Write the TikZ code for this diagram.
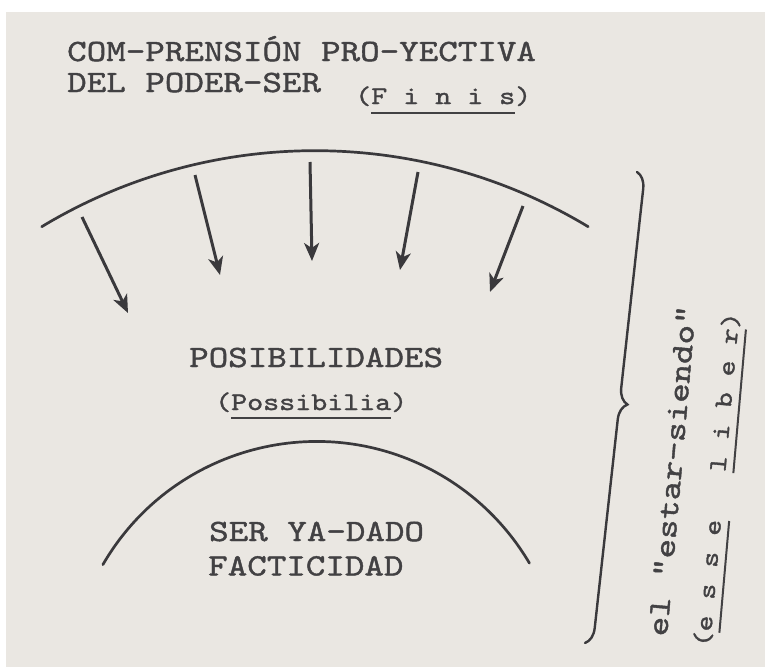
\documentclass[tikz,border=0pt]{standalone}
\usepackage{fontspec}
\usetikzlibrary{arrows.meta,decorations.pathreplacing,calc}
\newfontfamily\tw{lmmono10-regular.otf}[FakeStretch=1.2,FakeBold=1.3]
\definecolor{paper}{HTML}{EAE7E2}
\definecolor{ink}{HTML}{3A393C}
\definecolor{typeink}{HTML}{424143}
\newcommand\bigtype{\tw\fontsize{31}{36}\selectfont}
\newcommand\smalltype{\tw\fontsize{25.4}{30}\selectfont}
\begin{document}
\begin{tikzpicture}[x=1pt,y=1pt,
  txt/.style={inner sep=0pt, anchor=base west, text=typeink},
  big/.style={txt, font=\bigtype},
  small/.style={txt, font=\smalltype},
  uline/.style={draw=typeink, line width=2pt},
  arr/.style={draw=ink, line width=3pt, -{Stealth[length=18pt,width=15pt,inset=5pt]}},
  curve/.style={draw=ink, line width=2.7pt, line cap=round}]
\useasboundingbox (0,0) rectangle (765,-667);
\fill[white] (0,0) rectangle (765,-667);
\fill[paper] (6,-12) rectangle (765,-667);
% title
\node[big] (t1) at (67,-61) {COM-PRENSIÓN PRO-YECTIVA};
\node[big] (t2) at (67,-92) {DEL PODER-SER};
\node[small] (fin) at (355,-104) {(F i n i s)};
\draw[uline] ($($(fin.base west)!1/11!(fin.base east)$)!9pt!-90:(fin.base east)$)
          -- ($($(fin.base west)!10/11!(fin.base east)$)!9pt!90:(fin.base west)$);
% upper arc
\draw[curve] (41.7,-226.7) arc[start angle=121.1,end angle=58.9,radius=529];
% arrows
\coordinate (a1s) at (82,-217);  \coordinate (a1e) at (128,-313);
\coordinate (a2s) at (195,-175); \coordinate (a2e) at (220,-275);
\coordinate (a3s) at (310,-162); \coordinate (a3e) at (312,-261);
\coordinate (a4s) at (418,-172); \coordinate (a4e) at (400,-270);
\coordinate (a5s) at (523,-206); \coordinate (a5e) at (490,-292);
\draw[arr] (a1s) -- (a1e);
\draw[arr] (a2s) -- (a2e);
\draw[arr] (a3s) -- (a3e);
\draw[arr] (a4s) -- (a4e);
\draw[arr] (a5s) -- (a5e);
% middle
\node[big] (pos) at (189,-367) {POSIBILIDADES};
\node[small] (poss) at (215,-410) {(Possibilia)};
\draw[uline] ($($(poss.base west)!1/12!(poss.base east)$)!8pt!-90:(poss.base east)$)
          -- ($($(poss.base west)!11/12!(poss.base east)$)!8pt!90:(poss.base west)$);
% lower arc
\draw[curve] (102.9,-564.6) arc[start angle=149.9,end angle=30.5,radius=247];
\node[big] (ser) at (209,-541) {SER YA-DADO};
\node[big] (fac) at (208,-575.4) {FACTICIDAD};
% brace
\coordinate (btop) at (637,-172);
\coordinate (bbot) at (585,-643);
\draw[ink, line width=2.4pt, line cap=round, decorate, decoration={brace,amplitude=16pt,aspect=0.49}] (btop) -- (bbot);
\node[big, rotate=85] (estar) at (667,-637) {el "estar-siendo"};
\node[small, rotate=85] (esse) at (710,-648) {(e s s e~~~l i b e r)};
\draw[uline] ($($(esse.base west)!1/21!(esse.base east)$)!8pt!-90:(esse.base east)$)
          -- ($($(esse.base west)!8/21!(esse.base east)$)!8pt!90:(esse.base west)$);
\draw[uline] ($($(esse.base west)!11/21!(esse.base east)$)!8pt!-90:(esse.base east)$)
          -- ($($(esse.base west)!20/21!(esse.base east)$)!8pt!90:(esse.base west)$);
\end{tikzpicture}
\end{document}
